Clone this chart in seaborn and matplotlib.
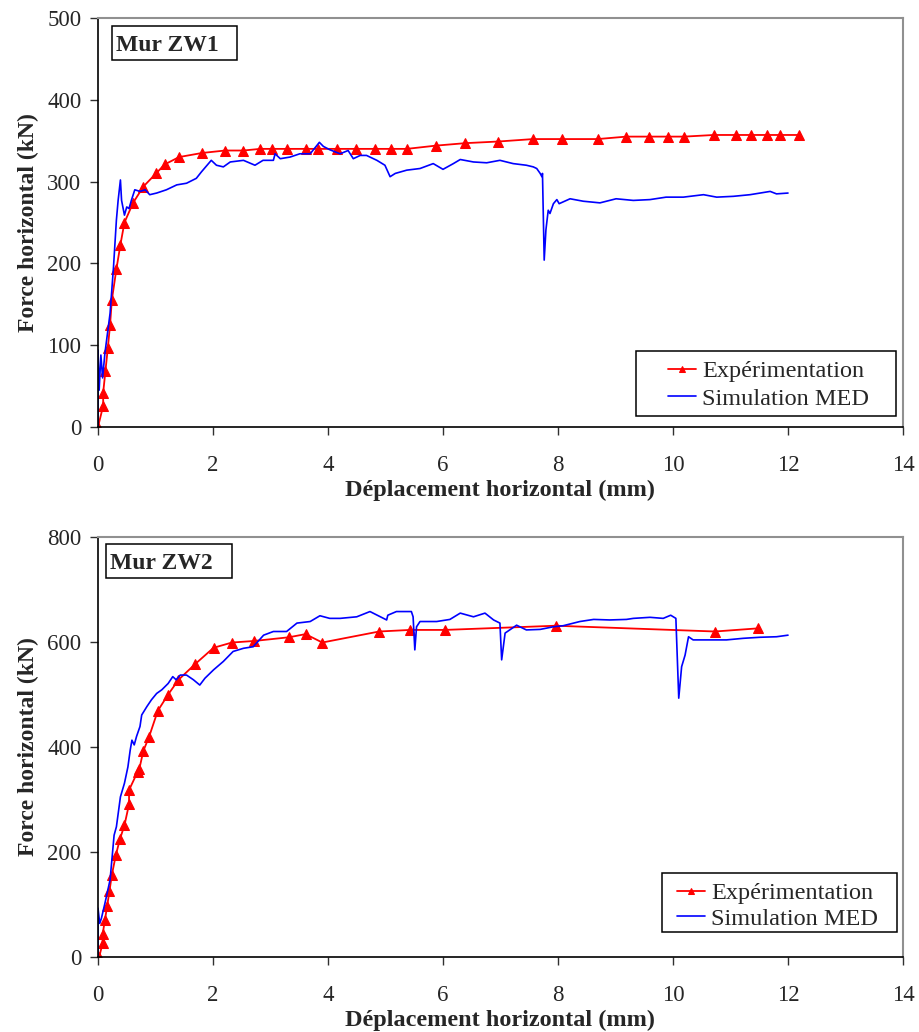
import matplotlib
matplotlib.use("Agg")
import matplotlib.pyplot as plt
import matplotlib.patches as mpatches
import seaborn as sns

# ---------------- data: Mur ZW1 ----------------
exp1_x = [0.00, 0.09, 0.09, 0.13, 0.17, 0.21, 0.24, 0.32, 0.39, 0.46, 0.61, 0.79, 1.01, 1.16, 1.41,
          1.81, 2.21, 2.53, 2.82, 3.03, 3.28, 3.62, 3.83, 4.15, 4.49, 4.81, 5.10, 5.37, 5.88, 6.39,
          6.96, 7.57, 8.07, 8.69, 9.19, 9.59, 9.92, 10.20, 10.71, 11.10, 11.36, 11.64, 11.86, 12.19]
exp1_y = [0, 26, 42, 69, 96, 125, 155, 193, 223, 250, 274, 294, 310, 321, 330,
          335, 338, 338, 340, 340, 340, 340, 340, 340, 340, 340, 340, 340, 344, 347,
          349, 352, 352, 352, 355, 355, 355, 355, 357, 357, 357, 357, 357, 357]

sim1_x = [0.00, 0.00, 0.02, 0.05, 0.08, 0.12, 0.21, 0.27, 0.32, 0.35, 0.39, 0.41, 0.46, 0.50, 0.54,
          0.58, 0.64, 0.73, 0.82, 0.90, 1.02, 1.19, 1.37, 1.54, 1.71, 1.80, 1.97, 2.06, 2.18, 2.30,
          2.53, 2.73, 2.87, 3.05, 3.08, 3.17, 3.34, 3.51, 3.69, 3.85, 3.92, 4.03, 4.21, 4.35, 4.44,
          4.56, 4.67, 4.85, 4.99, 5.08, 5.17, 5.37, 5.60, 5.83, 6.00, 6.18, 6.30, 6.53, 6.76, 6.99,
          7.22, 7.45, 7.57, 7.63, 7.69, 7.72, 7.73, 7.76, 7.79, 7.83, 7.86, 7.92, 7.98, 8.02, 8.21,
          8.44, 8.73, 9.01, 9.31, 9.60, 9.88, 10.18, 10.53, 10.76, 11.05, 11.34, 11.69, 11.80, 12.00]
sim1_y = [0, 94, 45, 88, 60, 90, 139, 196, 253, 277, 302, 277, 259, 269, 267,
          277, 290, 288, 290, 284, 286, 290, 296, 298, 304, 312, 326, 320, 318, 324,
          326, 320, 326, 326, 334, 328, 330, 334, 334, 348, 343, 339, 334, 338, 328,
          332, 332, 326, 320, 306, 310, 314, 316, 322, 315, 322, 327, 324, 323, 326,
          322, 320, 318, 316, 310, 306, 310, 204, 241, 265, 261, 273, 278, 273, 279,
          276, 274, 279, 277, 278, 281, 281, 284, 281, 282, 284, 288, 285, 286]

# ---------------- data: Mur ZW2 ----------------
exp2_x = [0.02, 0.08, 0.08, 0.12, 0.16, 0.20, 0.24, 0.31, 0.38, 0.46, 0.54, 0.54, 0.69, 0.72, 0.79,
          0.89, 1.04, 1.22, 1.40, 1.69, 2.01, 2.33, 2.72, 3.32, 3.61, 3.90, 4.89, 5.43, 6.03, 7.96,
          10.73, 11.48]
exp2_y = [0, 26, 43, 70, 98, 126, 156, 194, 224, 251, 291, 318, 353, 359, 393,
          420, 469, 500, 528, 558, 589, 599, 602, 609, 615, 599, 620, 623, 623, 631,
          620, 626]

sim2_x = [0.00, 0.00, 0.03, 0.06, 0.12, 0.21, 0.28, 0.32, 0.39, 0.46, 0.52, 0.56, 0.59, 0.63, 0.67,
          0.73, 0.76, 0.85, 0.93, 1.02, 1.11, 1.22, 1.30, 1.36, 1.43, 1.54, 1.66, 1.77, 1.86, 2.01,
          2.18, 2.35, 2.53, 2.70, 2.88, 3.05, 3.28, 3.46, 3.69, 3.86, 4.03, 4.21, 4.50, 4.73, 5.02,
          5.04, 5.19, 5.45, 5.48, 5.51, 5.54, 5.60, 5.89, 6.12, 6.30, 6.53, 6.73, 6.88, 6.99, 7.02,
          7.08, 7.28, 7.45, 7.69, 7.92, 8.09, 8.38, 8.62, 8.90, 9.19, 9.31, 9.60, 9.83, 9.96, 10.05,
          10.10, 10.15, 10.21, 10.27, 10.35, 10.65, 10.93, 11.22, 11.51, 11.80, 12.00]
sim2_y = [0, 93, 64, 74, 102, 147, 232, 248, 305, 331, 362, 394, 413, 404, 420,
          439, 461, 477, 490, 502, 509, 521, 534, 528, 537, 537, 528, 518, 531, 547,
          563, 582, 588, 591, 613, 620, 620, 636, 639, 650, 645, 645, 648, 658, 642,
          651, 658, 658, 648, 585, 629, 639, 639, 643, 655, 648, 655, 642, 636, 566,
          617, 632, 623, 624, 629, 631, 639, 643, 642, 643, 645, 647, 645, 651, 645,
          493, 553, 575, 610, 604, 604, 604, 607, 609, 610, 613]

x_ticks = [0, 2, 4, 6, 8, 10, 12, 14]
y1_ticks = [0, 100, 200, 300, 400, 500]
y2_ticks = [0, 200, 400, 600, 800]

x_label = "Déplacement horizontal (mm)"
y_label = "Force horizontal (kN)"
series_names = ["Expérimentation", "Simulation MED"]
titles = ["Mur ZW1", "Mur ZW2"]

# ---------------- plotting ----------------
sns.set_theme(style="white")
plt.rcParams["font.family"] = ["Liberation Serif", "DejaVu Serif"]

W, H = 920, 1032
fig = plt.figure(figsize=(W / 100, H / 100), dpi=100)
ax1 = fig.add_axes([98 / W, 1 - 427 / H, (903 - 98) / W, (427 - 18) / H])
ax2 = fig.add_axes([98 / W, 1 - 957 / H, (903 - 98) / W, (957 - 537) / H])

RED = "#ff0000"
BLUE = "#0000ff"


def px_box(x0, y0, x1, y1, z=5):
    return mpatches.Rectangle((x0 / W, 1 - y1 / H), (x1 - x0) / W, (y1 - y0) / H,
                              transform=fig.transFigure, fill=True, fc="white",
                              ec="black", lw=1.1, zorder=z, clip_on=False)


def draw(ax, ex, ey, sx, sy, yticks, title, title_box, leg_box, leg_anchor, leg_spacing):
    sns.lineplot(x=ex, y=ey, ax=ax, color=RED, lw=1.3, marker="^", markersize=7,
                 markeredgecolor=RED, markerfacecolor=RED, sort=False, estimator=None,
                 label=series_names[0])
    sns.lineplot(x=sx, y=sy, ax=ax, color=BLUE, lw=1.2, sort=False, estimator=None,
                 label=series_names[1])
    ax.set_xlim(0, 14)
    ax.set_ylim(yticks[0], yticks[-1])
    ax.set_xticks(x_ticks)
    ax.set_yticks(yticks)
    ax.tick_params(axis="both", direction="out", length=6, width=1, color="#303030",
                   labelsize=16.5, left=True, bottom=True)
    ax.tick_params(axis="y", pad=6)
    ax.tick_params(axis="x", pad=14)
    for side in ["left", "bottom"]:
        ax.spines[side].set_color("black")
        ax.spines[side].set_linewidth(1.2)
    for side in ["top", "right"]:
        ax.spines[side].set_color("#909090")
        ax.spines[side].set_linewidth(1.5)
    ax.set_xlabel(x_label, fontsize=17.5, fontweight="bold", labelpad=3)
    ax.set_ylabel(y_label, fontsize=17, fontweight="bold", labelpad=6)
    # title box
    x0, y0, x1, y1 = title_box
    fig.add_artist(px_box(x0, y0, x1, y1))
    fig.text((x0 + 4) / W, 1 - ((y0 + y1) / 2) / H, title, fontsize=17,
             fontweight="bold", va="center_baseline", ha="left", zorder=6)
    # legend: frame drawn as a box inside the axes, entries without frame on top
    bx0, by0, bx1, by1 = leg_box
    ax.add_patch(px_box(bx0, by0, bx1, by1, z=4))
    leg = ax.legend(loc="center left",
                    bbox_to_anchor=(leg_anchor[0] / W, 1 - leg_anchor[1] / H),
                    bbox_transform=fig.transFigure, frameon=False, fontsize=17.5,
                    handlelength=1.15, borderpad=0, labelspacing=leg_spacing,
                    handletextpad=0.25, borderaxespad=0)
    leg.set_zorder(10)
    for h in leg.legend_handles:
        h.set_markersize(5)
    ax.grid(False)


draw(ax1, exp1_x, exp1_y, sim1_x, sim1_y, y1_ticks, titles[0], (112, 26, 237, 60),
     (636, 351, 896, 416), (668, 385), 0.24)
draw(ax2, exp2_x, exp2_y, sim2_x, sim2_y, y2_ticks, titles[1], (106, 544, 232, 578),
     (662, 873, 897, 932), (677, 906), 0.15)

fig.savefig("out.png", dpi=100, facecolor="white")
